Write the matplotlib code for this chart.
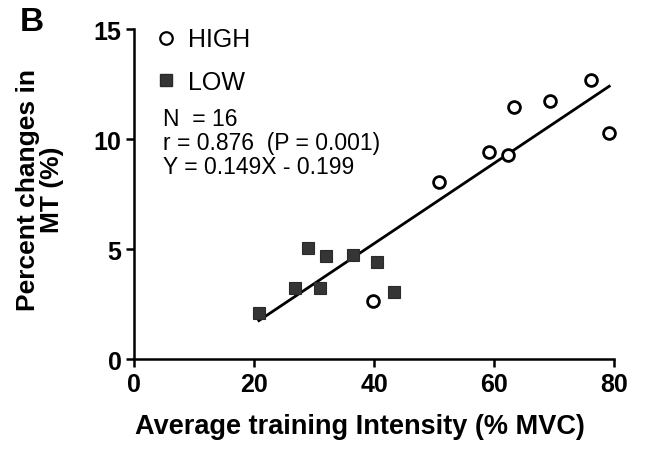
import numpy as np
import matplotlib
matplotlib.use("Agg")
import matplotlib.pyplot as plt
from matplotlib.lines import Line2D

plt.rcParams['font.family'] = ['Liberation Sans', 'DejaVu Sans']

# ------------------------------
#   Data
# ------------------------------
low_x = [20.8, 26.8, 29.0, 30.9, 32.0, 36.4, 40.5, 43.4]
low_y = [2.08, 3.21, 5.03, 3.21, 4.70, 4.73, 4.42, 3.03]
high_x = [39.8, 50.8, 59.2, 62.3, 63.4, 69.4, 76.2, 79.2]
high_y = [2.62, 8.06, 9.42, 9.27, 11.44, 11.74, 12.68, 10.26]

x_ticks = [0, 20, 40, 60, 80]
y_ticks = [0, 5, 10, 15]
stats_text = "N  = 16\nr = 0.876  (P = 0.001)\nY = 0.149X - 0.199"

# regression over all points
all_x = np.array(low_x + high_x)
all_y = np.array(low_y + high_y)
slope, intercept = np.polyfit(all_x, all_y, 1)
fit_x = np.array([all_x.min(), all_x.max()])
fit_y = slope * fit_x + intercept

# ------------------------------
#   Plot
# ------------------------------
fig = plt.figure(figsize=(6.45, 4.52), dpi=100)
ax = fig.add_axes([0.208, 0.2035, 0.744, 0.730])

ax.plot(fit_x, fit_y, color="black", lw=2.0, zorder=2)
ax.plot(low_x, low_y, ls="none", marker="s", ms=9.2, mfc="#353535",
        mec="#2a2a2a", mew=0.8, zorder=3, clip_on=False)
ax.plot(high_x, high_y, ls="none", marker="o", ms=8.5, mfc="white",
        mec="black", mew=2.0, zorder=3, clip_on=False)

ax.set_xlim(0, 80)
ax.set_ylim(0, 15)
ax.set_xticks(x_ticks)
ax.set_yticks(y_ticks)
for s in ["top", "right"]:
    ax.spines[s].set_visible(False)
for s in ["left", "bottom"]:
    ax.spines[s].set_linewidth(1.8)
ax.tick_params(direction="out", length=6, width=1.8, labelsize=18, pad=3)
for lab in ax.get_xticklabels() + ax.get_yticklabels():
    lab.set_fontweight("bold")

ax.set_xlabel("Average training Intensity (% MVC)", fontsize=19.5,
              fontweight="bold")
ax.xaxis.set_label_coords(0.47, -0.165)
fig.text(0.062, 0.58, "Percent changes in\nMT (%)", rotation=90,
         ha="center", va="center", multialignment="center",
         fontsize=19, fontweight="bold", linespacing=1.05)

fig.text(0.05, 0.95, "B", fontsize=24, fontweight="bold",
         ha="center", va="center")

handles = [
    Line2D([], [], ls="none", marker="o", ms=9, mfc="white", mec="black", mew=1.6),
    Line2D([], [], ls="none", marker="s", ms=9, mfc="#353535", mec="#2a2a2a"),
]
ax.legend(handles, ["HIGH", "LOW"], loc="upper left",
          bbox_to_anchor=(0.045, 1.005), frameon=False, fontsize=18,
          handlelength=0.8, handletextpad=0.5, labelspacing=0.75,
          borderpad=0, borderaxespad=0)

ax.text(0.06, 0.763, stats_text, transform=ax.transAxes, fontsize=16.5,
        ha="left", va="top", linespacing=1.05)

fig.savefig("out.png", dpi=100)
